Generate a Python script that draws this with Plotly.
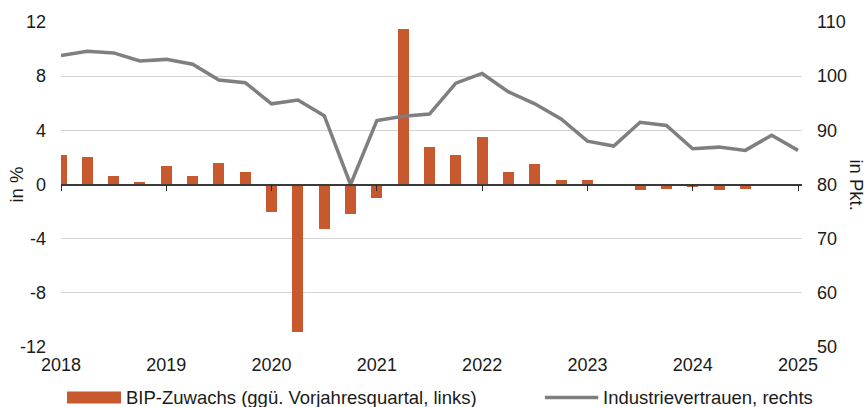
import plotly.graph_objects as go

# ---- data ----
quarters_bip = ["2018Q1", "2018Q2", "2018Q3", "2018Q4",
                "2019Q1", "2019Q2", "2019Q3", "2019Q4",
                "2020Q1", "2020Q2", "2020Q3", "2020Q4",
                "2021Q1", "2021Q2", "2021Q3", "2021Q4",
                "2022Q1", "2022Q2", "2022Q3", "2022Q4",
                "2023Q1", "2023Q2", "2023Q3", "2023Q4",
                "2024Q1", "2024Q2", "2024Q3"]
bip_growth = [2.2, 2.0, 0.6, 0.2,
              1.4, 0.6, 1.6, 0.9,
              -2.0, -10.9, -3.3, -2.2,
              -1.0, 11.5, 2.8, 2.2,
              3.5, 0.9, 1.5, 0.3,
              0.3, 0.0, -0.4, -0.3,
              -0.2, -0.4, -0.3]

quarters_ind = quarters_bip + ["2024Q4", "2025Q1"]
industry_conf = [103.8, 104.6, 104.3, 102.8,
                 103.1, 102.2, 99.3, 98.8,
                 94.9, 95.6, 92.7, 80.0,
                 91.8, 92.6, 93.0, 98.7,
                 100.5, 97.1, 94.9, 92.1,
                 88.0, 87.1, 91.5, 90.9,
                 86.6, 86.9, 86.3, 89.1,
                 86.3]

year_ticks = [2018, 2019, 2020, 2021, 2022, 2023, 2024, 2025]
left_ticks = [-12, -8, -4, 0, 4, 8, 12]
left_tick_labels = ["-12", "-8", "-4", "0", "4", "8", "12"]
right_ticks = [50, 60, 70, 80, 90, 100, 110]

bar_name = "BIP-Zuwachs (ggü. Vorjahresquartal, links)"
line_name = "Industrievertrauen, rechts"


def q_to_num(q):
    return int(q[:4]) + (int(q[5]) - 1) / 4.0


x_bip = [q_to_num(q) for q in quarters_bip]
x_ind = [q_to_num(q) for q in quarters_ind]

BAR_COLOR = "#C8582D"
LINE_COLOR = "#7F7F7F"
FONT = "Liberation Sans, Arial, sans-serif"
TXT = "#1a1a1a"
XRANGE = [2018, 2025.038]
TICK_SIZE = 18
LEG_SIZE = 18.5

fig = go.Figure()
fig.add_trace(go.Bar(x=x_bip, y=bip_growth, name=bar_name, marker_color=BAR_COLOR,
                     marker_line_width=0, width=0.105, yaxis="y", xaxis="x",
                     showlegend=False))
fig.add_trace(go.Scatter(x=x_ind, y=industry_conf, name=line_name, mode="lines",
                         line=dict(color=LINE_COLOR, width=3.5), yaxis="y2", xaxis="x",
                         cliponaxis=False, showlegend=False))
# invisible helper trace so that the zero-line x axis is drawn
fig.add_trace(go.Scatter(x=[2018], y=[0], mode="markers", marker=dict(opacity=0),
                         xaxis="x2", yaxis="y", showlegend=False, hoverinfo="skip"))

fig.update_layout(
    width=868, height=407,
    margin=dict(l=61, r=66, t=19, b=60),
    paper_bgcolor="white", plot_bgcolor="white",
    font=dict(family=FONT, size=TICK_SIZE, color=TXT),
    showlegend=False,
    bargap=0,
    xaxis=dict(range=XRANGE, tickvals=year_ticks, ticktext=[str(y) for y in year_ticks],
               showgrid=False, zeroline=False, showline=False, ticks="",
               ticklabelstandoff=5, tickfont=dict(size=TICK_SIZE, color=TXT)),
    xaxis2=dict(range=XRANGE, overlaying="x", anchor="free", position=0.5,
                tickvals=year_ticks, showticklabels=False, showgrid=False, zeroline=False,
                showline=True, linecolor="#3a3a3a", linewidth=1.6,
                ticks="outside", ticklen=6, tickwidth=1.4, tickcolor="#2a2a2a"),
    yaxis=dict(range=[-12, 12], tickvals=left_ticks, ticktext=left_tick_labels,
               showgrid=True, gridcolor="#D4D4D4",
               gridwidth=1, zeroline=False, showline=False, ticks="",
               ticklabelstandoff=14, tickfont=dict(size=TICK_SIZE, color=TXT)),
    yaxis2=dict(range=[50, 110], tickvals=right_ticks, overlaying="y", side="right",
                showgrid=False, zeroline=False, showline=False, ticks="",
                ticklabelstandoff=14, tickfont=dict(size=TICK_SIZE, color=TXT)),
)

# axis titles
fig.add_annotation(text="in %", xref="paper", yref="paper", x=-0.0607, y=0.5,
                   textangle=-90, showarrow=False, font=dict(size=LEG_SIZE, color=TXT),
                   xanchor="center", yanchor="middle")
fig.add_annotation(text="in Pkt.", xref="paper", yref="paper", x=1.073, y=0.5,
                   textangle=90, showarrow=False, font=dict(size=LEG_SIZE, color=TXT),
                   xanchor="center", yanchor="middle")

# custom legend
fig.add_shape(type="rect", xref="paper", yref="paper", x0=0.0081, x1=0.081,
              y0=-0.174, y1=-0.137, fillcolor=BAR_COLOR, line_width=0)
fig.add_annotation(text=bar_name, xref="paper", yref="paper", x=0.085, y=-0.155,
                   xanchor="left", yanchor="middle", showarrow=False,
                   font=dict(size=LEG_SIZE, color=TXT))
fig.add_shape(type="line", xref="paper", yref="paper", x0=0.653, x1=0.725,
              y0=-0.155, y1=-0.155, line=dict(color=LINE_COLOR, width=3.5))
fig.add_annotation(text=line_name, xref="paper", yref="paper", x=0.729, y=-0.155,
                   xanchor="left", yanchor="middle", showarrow=False,
                   font=dict(size=LEG_SIZE, color=TXT))

fig.write_html("out.html")
